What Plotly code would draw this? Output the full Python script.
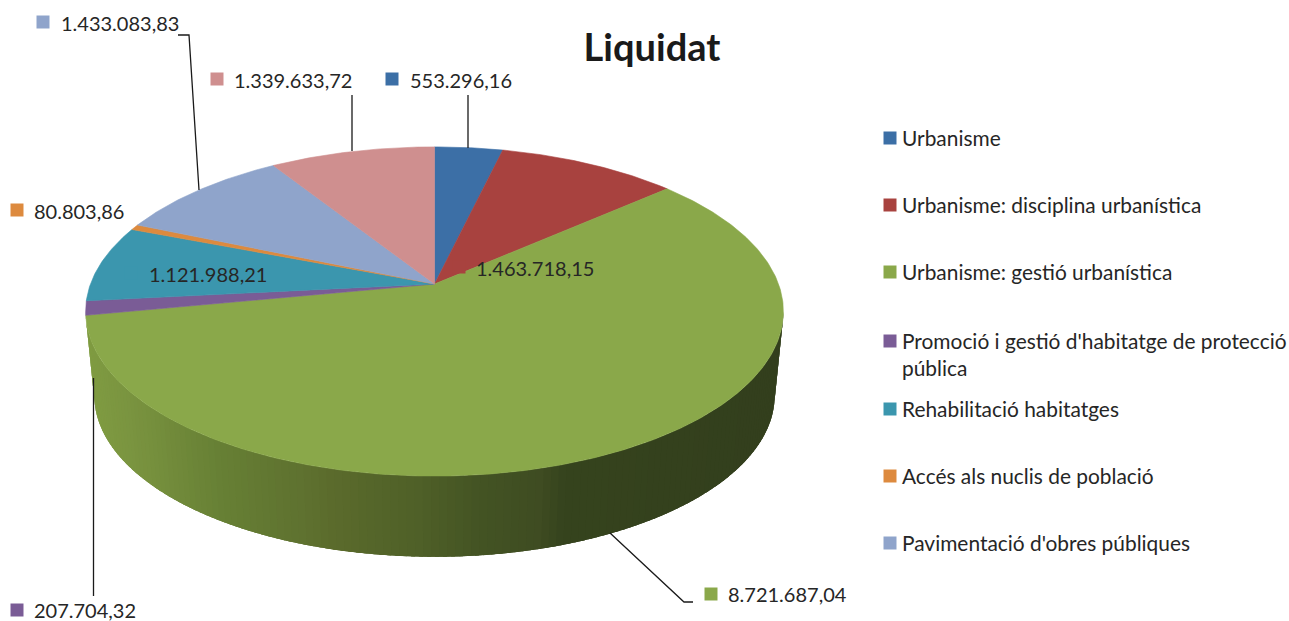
import numpy as np
import plotly.graph_objects as go

# ---- data ----
categories = ["Urbanisme", "Urbanisme: disciplina urbanística", "Urbanisme: gestió urbanística",
              "Promoció i gestió d'habitatge de protecció pública", "Rehabilitació habitatges",
              "Accés als nuclis de població", "Pavimentació d'obres públiques", "Altres"]
values = [553296.16, 1463718.15, 8721687.04, 207704.32, 1121988.21, 80803.86, 1433083.83, 1339633.72]
colors = ["#3C6FA6", "#A8423F", "#8AA84A", "#7A5C96", "#3B96AE", "#DD8A3E", "#8FA4CB", "#CF8F8F"]
legend_rows = [138, 205, 272, 341, 409, 476, 543]

FONT = "Lato"
TXT = "#262626"

# ---- perspective projection of the pie disc (pixel axes) ----
CX, CY, A, B, P = 434.5, 284.0, 344.0, 160.0, 0.167
def top_xy(theta):
    u, v = np.sin(theta), np.cos(theta)
    d = 1 + P * v
    return CX + A * u / d, CY - B * v / d
def bottom_xy(theta):
    x, y = top_xy(theta)
    return CX + 0.975 * (x - CX), 395 + 0.98 * (y - 311)

def fmt(v):
    s = f"{v:,.2f}"
    return s.replace(",", "#").replace(".", ",").replace("#", ".")

vals = np.array(values)
edges = np.concatenate([[0], np.cumsum(vals)]) / vals.sum() * 2 * np.pi

fig = go.Figure()

# side wall of the large slice, shaded by horizontal position
stop_x = [85, 130, 220, 300, 340, 420, 480, 540, 565, 783]
stop_rgb = np.array([[128, 156, 66], [122, 148, 64], [103, 128, 53], [95, 114, 48], [90, 106, 44],
                     [79, 96, 40], [68, 84, 36], [63, 76, 34], [54, 68, 30], [51, 63, 29]])
t_start, t_end = np.arccos(-P), edges[3]
grid = np.linspace(t_start, t_end, 141)
step = grid[1] - grid[0]
for t0, t1 in zip(grid[:-1], grid[1:]):
    ts = np.linspace(t0, min(t1 + 1.5 * step, t_end), 4)
    xa, ya = top_xy(ts)
    xb, yb = bottom_xy(ts[::-1])
    xm, _ = top_xy((t0 + t1) / 2)
    c = [int(np.interp(float(xm), stop_x, stop_rgb[:, i])) for i in range(3)]
    col = f"rgb({c[0]},{c[1]},{c[2]})"
    fig.add_trace(go.Scatter(x=np.r_[xa, xb], y=np.r_[ya, yb], mode="none", fill="toself",
                             fillcolor=col, hoverinfo="skip", showlegend=False))

# top face slices
for i, (name, c) in enumerate(zip(categories, colors)):
    ts = np.linspace(edges[i], edges[i + 1], max(3, int((edges[i + 1] - edges[i]) * 90)))
    xs, ys = top_xy(ts)
    fig.add_trace(go.Scatter(x=np.r_[CX, xs, CX], y=np.r_[CY, ys, CY], mode="lines", fill="toself",
                             fillcolor=c, line=dict(color=c, width=0.6), name=name,
                             text=fmt(values[i]), hoverinfo="name+text", showlegend=False))

# leader lines
leaders = [([178, 189, 199], [35, 35, 190]), ([352, 352], [95, 151]), ([468, 468], [95, 148]),
           ([610, 684, 693], [533, 602, 602]), ([93.5, 93.5], [378, 596])]
for lx, ly in leaders:
    fig.add_trace(go.Scatter(x=lx, y=ly, mode="lines", line=dict(color="#1a1a1a", width=1.3),
                             hoverinfo="skip", showlegend=False))

# data labels: (series index, swatch x, swatch y, text left x, text y)
label_pos = [(0, 392, 79, 409, 79.5), (1, 459, 267, 475, 267.5), (2, 711, 594, 727, 593.5), (3, 17, 610, 33, 610),
             (4, 131, 273, 148, 273.5), (5, 17, 210, 33, 210.5), (6, 43, 22, 60, 22.5), (7, 217, 79, 233, 79.5)]
annotations = []
for i, sx, sy, tx, ty in label_pos:
    fig.add_trace(go.Scatter(x=[sx], y=[sy], mode="markers", hoverinfo="skip", showlegend=False,
                             marker=dict(symbol="square", size=13, color=colors[i], line=dict(width=0))))
    annotations.append(dict(x=tx, y=ty, text=fmt(values[i]), showarrow=False, xanchor="left", yanchor="middle",
                            xref="x", yref="y", borderpad=0, font=dict(family=FONT, size=20, color=TXT)))

# legend column
legend_labels = list(categories[:7])
legend_labels[3] = "Promoció i gestió d'habitatge de protecció<br>pública"
for i, (lab, row) in enumerate(zip(legend_labels, legend_rows)):
    fig.add_trace(go.Scatter(x=[890], y=[row], mode="markers", hoverinfo="skip", showlegend=False,
                             marker=dict(symbol="square", size=13, color=colors[i], line=dict(width=0))))
    two = "<br>" in lab
    annotations.append(dict(x=900.5, y=row - 1 + (13.5 if two else 0), text=lab, showarrow=False, xanchor="left",
                            yanchor="middle", align="left", xref="x", yref="y", borderpad=0,
                            font=dict(family=FONT, size=20.9, color=TXT)))

fig.update_layout(
    width=1289, height=621, margin=dict(l=0, r=0, t=0, b=0),
    paper_bgcolor="white", plot_bgcolor="white", showlegend=False,
    title=dict(text="<b>Liquidat</b>", x=652 / 1289, y=1 - 48 / 621, xanchor="center", yanchor="middle",
               xref="paper", yref="container", font=dict(family=FONT, size=38, color="#1a1a1a")),
    xaxis=dict(range=[0, 1289], visible=False, fixedrange=True),
    yaxis=dict(range=[621, 0], visible=False, fixedrange=True),
    annotations=annotations,
)
fig.write_html("out.html", config=dict(displayModeBar=False), post_script="document.body.style.margin='0';")
